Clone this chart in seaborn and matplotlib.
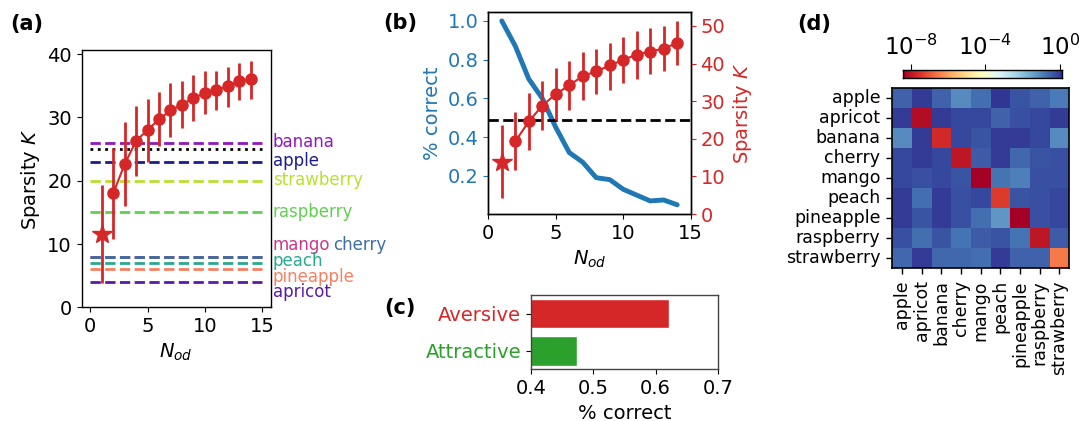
import numpy as np
import pandas as pd
import matplotlib
matplotlib.use("Agg")
import matplotlib.pyplot as plt
from matplotlib.colors import LogNorm
from matplotlib.ticker import LogFormatterSciNotation, NullLocator
import seaborn as sns

# ---------------- data ----------------
n_od = [1, 2, 3, 4, 5, 6, 7, 8, 9, 10, 11, 12, 13, 14]

# panel (a): sparsity K vs N_od (mean, lower, upper)
k_a_mean = [11.6, 18.0, 22.6, 26.3, 28.0, 29.7, 31.1, 32.0, 33.1, 33.8, 34.3, 34.9, 35.7, 36.0]
k_a_low = [3.9, 10.8, 16.0, 20.8, 23.0, 25.5, 26.9, 28.4, 29.4, 30.5, 31.1, 31.6, 32.8, 32.9]
k_a_high = [19.3, 25.2, 29.3, 31.8, 32.9, 34.0, 35.4, 35.7, 36.7, 37.3, 37.3, 38.0, 38.6, 38.9]

fruit_names = ["banana", "apple", "strawberry", "raspberry", "mango", "cherry",
               "peach", "pineapple", "apricot"]
fruit_k = [26, 23, 20, 15, 8, 8, 7, 6, 4]
fruit_colors = ["#9018c0", "#1c1c8c", "#b8e030", "#60d050", "#c8388c", "#3c6fa0",
                "#28a890", "#f88060", "#5a1aa8"]
k_reference = 25

# panel (b)
pct_correct = [1.00, 0.87, 0.70, 0.60, 0.45, 0.32, 0.27, 0.19, 0.18, 0.13, 0.10, 0.07, 0.075, 0.05]
k_b_mean = [13.8, 19.3, 24.6, 28.8, 31.9, 34.2, 36.7, 37.9, 39.5, 41.0, 42.4, 43.2, 44.0, 45.5]
k_b_low = [4.2, 11.6, 16.9, 22.4, 24.9, 27.6, 30.2, 31.8, 33.1, 34.9, 35.8, 37.2, 38.0, 39.5]
k_b_high = [23.8, 27.0, 32.2, 35.3, 38.7, 40.7, 43.1, 44.0, 45.6, 47.2, 48.8, 49.4, 50.0, 51.4]

# panel (c)
valence = ["Aversive", "Attractive"]
valence_correct = [0.621, 0.474]
valence_colors = ["#d62728", "#2ca02c"]

# panel (d): log10 of matrix entries
odors = ["apple", "apricot", "banana", "cherry", "mango", "peach",
         "pineapple", "raspberry", "strawberry"]
log10_matrix = [
    [-0.50, 0.02, -0.50, -1.09, -0.67, 0.10, -0.33, -0.50, -0.84],
    [0.02, -8.15, 0.02, -0.16, -0.16, -0.50, -0.24, -0.16, 0.02],
    [-1.09, 0.02, -7.64, -0.16, -0.33, 0.02, 0.02, -0.16, -1.09],
    [-0.16, 0.02, -0.16, -7.98, -0.41, 0.02, -0.58, -0.33, -0.24],
    [-0.16, -0.24, -0.16, -0.33, -8.40, -0.75, -0.92, -0.24, -0.24],
    [0.02, -0.67, 0.02, -0.24, -0.16, -7.38, -0.33, -0.24, -0.16],
    [0.02, -0.33, 0.02, -0.24, -0.67, -1.26, -8.40, -0.24, -0.16],
    [-0.24, -0.67, -0.33, -0.75, -0.41, -0.33, -0.75, -7.98, -0.41],
    [-0.58, 0.02, -0.58, -0.58, -0.67, 0.02, -0.50, -0.50, -6.53],
]

# ---------------- style ----------------
sns.set_style("ticks")
plt.rcParams["font.family"] = ["DejaVu Sans"]
plt.rcParams["font.size"] = 14
plt.rcParams["xtick.labelsize"] = 14
plt.rcParams["ytick.labelsize"] = 14
plt.rcParams["axes.labelsize"] = 14
plt.rcParams["axes.edgecolor"] = "black"
plt.rcParams["text.color"] = "black"
plt.rcParams["axes.labelcolor"] = "black"
plt.rcParams["xtick.color"] = "black"
plt.rcParams["ytick.color"] = "black"
plt.rcParams["axes.linewidth"] = 1.0

BLUE = "#1f77b4"
RED = "#d62728"

W, H = 1079, 421
fig = plt.figure(figsize=(W / 100, H / 100), dpi=100)


def box(l, r, t, b):
    return [l / W, 1 - b / H, (r - l) / W, (b - t) / H]


# ---------------- panel (a) ----------------
ax_a = fig.add_axes(box(81.7, 270.7, 50, 307.3))
for name, k, c in zip(fruit_names, fruit_k, fruit_colors):
    ax_a.hlines(k, 0, 15, colors=c, linestyles="--", lw=2)
ax_a.hlines(k_reference, 0, 15, colors="black", linestyles=":", lw=2)

m = np.array(k_a_mean)
lo = m - np.array(k_a_low)
hi = np.array(k_a_high) - m
ax_a.errorbar(n_od[1:], m[1:], yerr=[lo[1:], hi[1:]], color=RED, marker="o",
              ms=8, lw=1.5, elinewidth=2, capsize=0)
ax_a.errorbar(n_od[:1], m[:1], yerr=[lo[:1], hi[:1]], color=RED, marker="*",
              ms=15, lw=1.5, elinewidth=2, capsize=0)
ax_a.set_xlim(-0.75, 15.75)
ax_a.set_ylim(0, 40.65)
ax_a.set_xticks([0, 5, 10, 15])
ax_a.set_yticks([0, 10, 20, 30, 40])
ax_a.set_xlabel("$N_{od}$")
ax_a.set_ylabel("Sparsity $K$")

label_pos = {"banana": (1.011, 25.3), "apple": (1.011, 22.3), "strawberry": (1.011, 19.3),
             "raspberry": (1.011, 14.2), "mango": (1.011, 9.05), "cherry": (1.331, 9.05),
             "peach": (1.011, 6.5), "pineapple": (1.011, 4.05), "apricot": (1.011, 1.7)}
trans = matplotlib.transforms.blended_transform_factory(ax_a.transAxes, ax_a.transData)
for name, c in zip(fruit_names, fruit_colors):
    x, y = label_pos[name]
    ax_a.text(x, y, name, color=c, fontsize=12, transform=trans, va="baseline",
              ha="left", clip_on=False)

# ---------------- panel (b) ----------------
ax_b = fig.add_axes(box(488.3, 690.7, 11.7, 214))
df_b = pd.DataFrame({"N_od": n_od, "pct": pct_correct})
sns.lineplot(data=df_b, x="N_od", y="pct", color=BLUE, lw=3.5, ax=ax_b)
ax_b.set_xlim(0, 15)
ax_b.set_ylim(0.0025, 1.0475)
ax_b.set_yticks([0.2, 0.4, 0.6, 0.8, 1.0])
ax_b.set_xticks([0, 5, 10, 15])
ax_b.set_xlabel("$N_{od}$")
ax_b.set_ylabel("% correct", color=BLUE)
ax_b.tick_params(axis="y", colors=BLUE)
for t in ax_b.get_yticklabels():
    t.set_color(BLUE)

ax_b2 = ax_b.twinx()
mb = np.array(k_b_mean)
lob = mb - np.array(k_b_low)
hib = np.array(k_b_high) - mb
ax_b2.axhline(k_reference, color="black", ls="--", lw=2)
ax_b2.errorbar(n_od[1:], mb[1:], yerr=[lob[1:], hib[1:]], color=RED, marker="o",
               ms=8, lw=1.5, elinewidth=2, capsize=0)
ax_b2.errorbar(n_od[:1], mb[:1], yerr=[lob[:1], hib[:1]], color=RED, marker="*",
               ms=15, lw=1.5, elinewidth=2, capsize=0)
ax_b2.set_ylim(0, 53.8)
ax_b2.set_yticks([0, 10, 20, 30, 40, 50])
ax_b2.set_ylabel("Sparsity $K$", color=RED)
ax_b2.tick_params(axis="y", colors=RED)
ax_b2.spines["right"].set_visible(True)
ax_b2.spines["top"].set_visible(True)

# ---------------- panel (c) ----------------
ax_c = fig.add_axes(box(531, 718, 295, 369.3))
df_c = pd.DataFrame({"valence": valence, "pct": valence_correct})
sns.barplot(data=df_c, x="pct", y="valence", hue="valence", palette=valence_colors,
            orient="h", width=0.8, legend=False, ax=ax_c, saturation=1)
ax_c.set_xlim(0.4, 0.7)
ax_c.set_xticks([0.4, 0.5, 0.6, 0.7])
ax_c.set_xlabel("% correct")
ax_c.set_ylabel("")
for t, c in zip(ax_c.get_yticklabels(), valence_colors):
    t.set_color(c)
for s in ax_c.spines.values():
    s.set_visible(True)
    s.set_color("#444444")

# ---------------- panel (d) ----------------
ax_d = fig.add_axes(box(892.3, 1069.3, 88.3, 268.3))
cax = fig.add_axes(box(903.3, 1061.7, 70, 78.3))
mat = pd.DataFrame(10.0 ** np.array(log10_matrix), index=odors, columns=odors)
norm = LogNorm(vmin=10 ** -8.4, vmax=10 ** 0.1)
sns.heatmap(mat, ax=ax_d, cmap="RdYlBu", norm=norm, cbar_ax=cax,
            cbar_kws={"orientation": "horizontal", "ticks": [1e-8, 1e-4, 1e0]})
ax_d.set_xticks(np.arange(len(odors)) + 0.5)
ax_d.set_yticks(np.arange(len(odors)) + 0.5)
ax_d.set_xticklabels(odors, rotation=90, fontsize=12.5)
ax_d.set_yticklabels(odors, rotation=0, fontsize=12.5)
ax_d.tick_params(length=4.5, width=1, color="black", pad=4)
for s in ax_d.spines.values():
    s.set_visible(True)
    s.set_color("black")
    s.set_linewidth(1.2)

cax.xaxis.set_ticks_position("top")
cax.xaxis.set_label_position("top")
cax.xaxis.set_major_formatter(LogFormatterSciNotation())
cax.xaxis.set_minor_locator(NullLocator())
cax.tick_params(axis="x", labelsize=16.5, length=4)
for s in cax.spines.values():
    s.set_visible(True)
    s.set_color("black")

# ---------------- panel labels ----------------
fig.text(10 / W, 1 - 24 / H, "(a)", fontsize=15, fontweight="bold", va="center")
fig.text(383 / W, 1 - 23 / H, "(b)", fontsize=15, fontweight="bold", va="center")
fig.text(384 / W, 1 - 308 / H, "(c)", fontsize=15, fontweight="bold", va="center")
fig.text(797 / W, 1 - 24 / H, "(d)", fontsize=15, fontweight="bold", va="center")

fig.savefig("out.png", dpi=100)
